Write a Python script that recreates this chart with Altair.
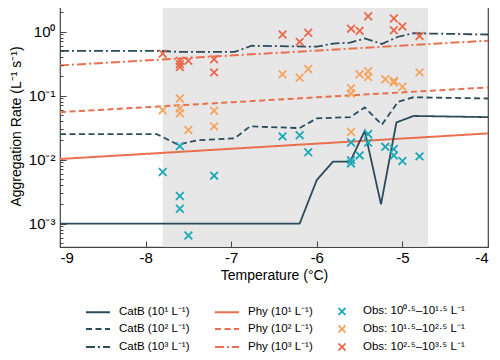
import altair as alt
import pandas as pd

# ---------------- data ----------------
t_domain = [-9, -4]
y_domain = [4.3e-4, 2.6]
shade_start, shade_end = -7.8, -4.7

catb1_t = [-9, -6.2, -6.0, -5.81, -5.61, -5.44, -5.25, -5.07, -4.87, -4]
catb1_v = [0.001, 0.001, 0.0048, 0.0093, 0.0093, 0.028, 0.0020, 0.038, 0.048, 0.046]
catb2_t = [-9, -7.87, -7.62, -7.4, -6.96, -6.78, -6.2, -6.0, -5.61, -5.44, -5.24, -5.05, -4.87, -4]
catb2_v = [0.025, 0.025, 0.017, 0.020, 0.0215, 0.033, 0.031, 0.044, 0.046, 0.065, 0.035, 0.080, 0.094, 0.090]
catb3_t = [-9, -7.85, -7.6, -6.96, -6.76, -6.0, -5.81, -5.61, -5.44, -5.24, -5.05, -4.87, -4]
catb3_v = [0.50, 0.50, 0.48, 0.48, 0.60, 0.58, 0.65, 0.67, 0.78, 0.64, 0.83, 0.94, 0.90]

phy_t = [-9, -4]
phy1_v = [0.0102, 0.0256]
phy2_v = [0.055, 0.134]
phy3_v = [0.296, 0.72]

obs1_t = [-7.8, -7.6, -7.6, -7.5, -7.2, -7.6, -6.4, -6.2, -6.1, -5.6, -5.6, -5.6, -5.5,
          -5.4, -5.4, -5.2, -5.1, -5.1, -5.0, -4.8]
obs1_v = [0.0064, 0.0027, 0.0017, 0.00065, 0.0056, 0.0162, 0.023, 0.024, 0.013, 0.0185,
          0.0098, 0.0087, 0.0116, 0.025, 0.0184, 0.0158, 0.0146, 0.0116, 0.0095, 0.0112]
obs2_t = [-7.8, -7.6, -7.6, -7.6, -7.5, -7.2, -7.2, -6.4, -6.2, -6.1, -5.6, -5.6, -5.5,
          -5.4, -5.4, -5.2, -5.1, -5.1, -5.0, -4.8, -5.6]
obs2_v = [0.059, 0.090, 0.063, 0.053, 0.029, 0.058, 0.033, 0.215, 0.19, 0.26, 0.13, 0.108,
          0.215, 0.24, 0.195, 0.18, 0.17, 0.16, 0.137, 0.23, 0.027]
obs3_t = [-7.8, -7.6, -7.6, -7.6, -7.5, -7.2, -7.2, -6.4, -6.2, -6.1, -5.6, -5.5, -5.4,
          -5.1, -5.1, -5.0, -4.8]
obs3_v = [0.45, 0.35, 0.31, 0.28, 0.35, 0.37, 0.23, 0.90, 0.69, 0.96, 1.11, 1.03, 1.73,
          1.6, 1.05, 1.2, 0.85]

C1, C2, C3 = "CatB (10¹ L⁻¹)", "CatB (10² L⁻¹)", "CatB (10³ L⁻¹)"
P1, P2, P3 = "Phy (10¹ L⁻¹)", "Phy (10² L⁻¹)", "Phy (10³ L⁻¹)"
O1 = "Obs: 10⁰·⁵–10¹·⁵ L⁻¹"
O2 = "Obs: 10¹·⁵–10²·⁵ L⁻¹"
O3 = "Obs: 10²·⁵–10³·⁵ L⁻¹"

y_major = [1, 0.1, 0.01, 0.001]
y_minor = [k * 10.0 ** e for e in range(-4, 1) for k in range(2, 10)
           if y_domain[0] <= k * 10.0 ** e <= y_domain[1]]
x_ticks = [-9, -8, -7, -6, -5, -4]

# ---------------- styling ----------------
DARK = "#2b4b5a"
PHY = "#e8704f"
solid, dash, dashdot = [1, 0], [6, 3.5], [9, 3, 2, 3]
LINE = "M-2.4,0L2.4,0"
CROSS = "M-0.7,-0.7L0.7,0.7M-0.7,0.7L0.7,-0.7"
order = [C1, C2, C3, P1, P2, P3, O1, O2, O3]
colors = [DARK, DARK, DARK, PHY, PHY, PHY, "#1aa8b8", "#f5a45e", "#e8684c"]
dashes = [solid, dash, dashdot, solid, dash, dashdot, solid, solid, solid]
shapes = [LINE, LINE, LINE, LINE, LINE, LINE, CROSS, CROSS, CROSS]
FONT = "Liberation Sans"


def long(ts, vs, name):
    return pd.DataFrame({"T": ts, "v": vs, "series": name})


catb_df = pd.concat([long(catb1_t, catb1_v, C1), long(catb2_t, catb2_v, C2),
                     long(catb3_t, catb3_v, C3)])
phy_df = pd.concat([long(phy_t, phy1_v, P1), long(phy_t, phy2_v, P2),
                    long(phy_t, phy3_v, P3)])
obs_df = pd.concat([long(obs1_t, obs1_v, O1), long(obs2_t, obs2_v, O2),
                    long(obs3_t, obs3_v, O3)])
shade_df = pd.DataFrame({"a": [shade_start], "b": [shade_end]})

xs = alt.Scale(domain=t_domain, nice=False, zero=False)
ys = alt.Scale(type="log", domain=y_domain, nice=False)

legend = alt.Legend(orient="none", legendX=32, legendY=300, columns=3,
                    columnPadding=21, rowPadding=2, title=None,
                    labelFont=FONT, labelFontSize=11.5, labelColor="black",
                    symbolSize=100, symbolStrokeWidth=1.8, labelOffset=15)
color = alt.Color("series:N", scale=alt.Scale(domain=order, range=colors), legend=legend)
sdash = alt.StrokeDash("series:N", scale=alt.Scale(domain=order, range=dashes), legend=legend)
shape = alt.Shape("series:N", scale=alt.Scale(domain=order, range=shapes), legend=legend)

x_main_axis = alt.Axis(orient="bottom", values=x_ticks, labelExpr="'' + datum.value",
                       ticks=False, domain=False, grid=False, labelFontSize=15,
                       labelPadding=3, labelColor="black", title="Temperature (°C)",
                       titleFontSize=14, titleFontWeight="normal", titleColor="black",
                       titlePadding=3, labelFont=FONT, titleFont=FONT, zindex=1)
x_tick_axis = alt.Axis(orient="bottom", values=x_ticks, labels=False, domain=False,
                       grid=False, title=None, offset=-6, tickSize=6, tickColor="#444",
                       tickWidth=1, zindex=1)
y_main_axis = alt.Axis(orient="left", values=y_major,
                       labelExpr="datum.value > 0.5 ? '10⁰' : datum.value > 0.05 ? '10⁻¹' : datum.value > 0.005 ? '10⁻²' : '10⁻³'",
                       ticks=False, domain=False, grid=False, labelFontSize=15,
                       labelPadding=5, labelColor="black",
                       title="Aggregation Rate (L⁻¹ s⁻¹)", titleFontSize=14,
                       titleFontWeight="normal", titleColor="black", titlePadding=5,
                       labelFont=FONT, titleFont=FONT, zindex=1)
y_major_ticks = alt.Axis(orient="left", values=y_major, labels=False, domain=False,
                         grid=False, title=None, offset=-6, tickSize=6, tickColor="#444",
                         tickWidth=1, zindex=1)
y_minor_ticks = alt.Axis(orient="left", values=y_minor, labels=False, domain=False,
                         grid=False, title=None, offset=-3, tickSize=3, tickColor="#444",
                         tickWidth=1, zindex=1)

shade = alt.Chart(shade_df).mark_rect(color="#e7e7e7").encode(
    x=alt.X("a:Q", scale=xs, axis=x_main_axis),
    x2="b:Q",
)

phy = alt.Chart(phy_df).mark_line(strokeWidth=2, clip=True).encode(
    x=alt.X("T:Q", scale=xs, axis=None),
    y=alt.Y("v:Q", scale=ys, axis=y_minor_ticks),
    color=color, strokeDash=sdash, detail="series:N",
)

catb = alt.Chart(catb_df).mark_line(strokeWidth=1.8, clip=True).encode(
    x=alt.X("T:Q", scale=xs, axis=x_tick_axis),
    y=alt.Y("v:Q", scale=ys, axis=y_main_axis),
    color=color, strokeDash=sdash, detail="series:N",
)

obs = alt.Chart(obs_df).mark_point(filled=False, size=120, strokeWidth=1.8, opacity=1).encode(
    x=alt.X("T:Q", scale=xs, axis=None),
    y=alt.Y("v:Q", scale=ys, axis=y_major_ticks),
    color=color, shape=shape,
)

chart = alt.layer(shade, phy, catb, obs).resolve_axis(
    x="independent", y="independent"
).properties(
    width=428, height=242,
    autosize=alt.AutoSizeParams(type="none"),
    padding={"left": 52, "top": -3, "right": 4, "bottom": 105},
).configure(font=FONT).configure_view(stroke="#444", strokeWidth=1.2)

chart.save("out.html", embed_options={"renderer": "svg", "actions": False})
